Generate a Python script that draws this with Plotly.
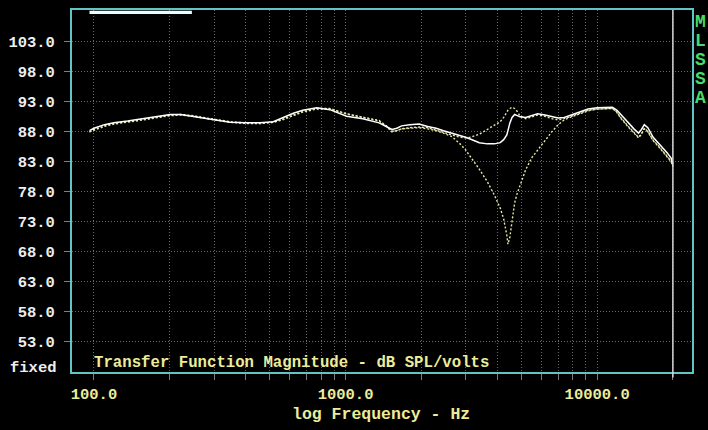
import plotly.graph_objects as go

freq = [96, 100, 110, 120, 136, 158, 180, 201, 221, 248,
        290, 348, 400, 457, 516, 563, 620, 676, 768, 866,
        1010, 1170, 1360, 1450, 1530, 1600, 1670, 1800, 1960, 2120,
        2290, 2450, 2650, 2850, 3000, 3130, 3400, 3660, 3900, 4120,
        4250, 4375, 4420, 4500, 4590, 4700, 4815, 4940, 5200, 5500,
        5800, 6200, 6600, 7000, 7400, 7900, 8500, 9200, 10000, 10700,
        11500, 12000, 12400, 13300, 14000, 14600, 15000, 15400, 15900, 16700,
        17500, 18200, 19000, 19700, 20000]

db_solid = [88.2, 88.6, 89.2, 89.5, 89.8, 90.2, 90.6, 90.9, 90.9, 90.6,
            90.1, 89.6, 89.5, 89.5, 89.7, 90.4, 91.1, 91.6, 92.0, 91.7,
            90.6, 90.2, 89.5, 88.9, 88.4, 88.6, 89.0, 89.2, 89.3, 88.9,
            88.6, 88.2, 87.8, 87.3, 87.1, 86.8, 86.2, 86.0, 86.0, 86.2,
            86.7, 87.5, 88.3, 89.5, 90.4, 90.9, 90.7, 90.5, 90.4, 90.7,
            91.0, 90.8, 90.5, 90.3, 90.4, 90.8, 91.3, 91.8, 92.0, 92.1,
            92.1, 91.6, 90.9, 89.5, 88.5, 87.8, 88.4, 89.2, 88.7, 87.1,
            86.2, 85.4, 84.5, 83.6, 82.6]

db_peak = [88.0, 88.4, 89.0, 89.4, 89.7, 90.1, 90.5, 90.8, 90.9, 90.7,
           90.2, 89.7, 89.5, 89.4, 89.6, 90.1, 90.8, 91.4, 91.9, 91.9,
           91.0, 90.5, 89.9, 89.0, 88.0, 88.2, 88.5, 88.7, 88.8, 88.7,
           88.3, 87.9, 87.5, 87.1, 87.0, 87.1, 87.6, 88.4, 89.0, 89.7,
           90.4, 91.3, 91.6, 91.9, 92.1, 91.9, 91.4, 90.6, 90.2, 90.5,
           90.8, 90.6, 90.2, 90.0, 90.2, 90.6, 91.1, 91.6, 91.8, 91.9,
           91.9, 91.2, 90.3, 88.8, 87.8, 87.0, 87.6, 88.5, 88.0, 86.5,
           85.6, 84.8, 83.9, 83.0, 82.2]

db_notch = [88.0, 88.3, 88.9, 89.3, 89.6, 90.0, 90.4, 90.7, 90.8, 90.6,
            90.1, 89.6, 89.4, 89.4, 89.6, 90.0, 90.7, 91.3, 91.8, 91.8,
            91.0, 90.4, 89.8, 89.0, 88.1, 88.2, 88.5, 88.6, 88.7, 88.5,
            88.2, 87.8, 87.2, 86.0, 85.0, 83.9, 81.8, 79.7, 77.5, 75.3,
            73.5, 70.8, 69.3, 70.5, 73.0, 76.2, 77.8, 79.0, 81.7, 83.7,
            85.0, 86.6, 88.0, 89.2, 90.0, 90.5, 91.0, 91.5, 91.8, 91.9,
            91.9, 91.3, 90.4, 88.9, 87.9, 87.1, 87.7, 88.6, 88.1, 86.6,
            85.7, 84.9, 84.0, 83.1, 82.3]

y_ticks = [53, 58, 63, 68, 73, 78, 83, 88, 93, 98, 103]
y_labels = ["53.0", "58.0", "63.0", "68.0", "73.0", "78.0", "83.0", "88.0", "93.0", "98.0", "103.0"]
x_ticks = [m * d for d in (100, 1000, 10000) for m in range(1, 10) if m * d <= 20000]
x_labels = {100: "100.0", 1000: "1000.0", 10000: "10000.0"}

FONT = "Liberation Mono"
YELLOW = "#ecec9a"
CYAN = "#62c4c4"
GRID = "#6a6a6a"
TICK = "#808080"

fig = go.Figure()
fig.add_trace(go.Scatter(x=freq, y=db_peak, mode="lines",
                         line=dict(color="#e8e8a8", width=1.4, dash="2px,2px")))
fig.add_trace(go.Scatter(x=freq, y=db_notch, mode="lines",
                         line=dict(color="#e8e8a8", width=1.4, dash="2px,2px")))
fig.add_trace(go.Scatter(x=freq, y=db_solid, mode="lines",
                         line=dict(color="#ffffff", width=1.5)))

fig.update_layout(
    width=708, height=430,
    margin=dict(l=71, r=16, t=8, b=58),
    paper_bgcolor="black", plot_bgcolor="black",
    showlegend=False,
    font=dict(family=FONT, size=15, color=YELLOW, weight="bold"),
)
fig.update_xaxes(
    type="log", range=[1.9127, 4.377],
    tickvals=x_ticks, ticktext=[x_labels.get(v, "") for v in x_ticks],
    ticks="outside", ticklen=6, tickcolor=TICK, tickwidth=1,
    tickfont=dict(family=FONT, size=15.5, color=YELLOW, weight="bold"),
    showgrid=True, gridcolor=GRID, griddash="1px,2px", gridwidth=1,
    showline=True, mirror=True, linecolor=CYAN, linewidth=2, zeroline=False,
)
fig.update_yaxes(
    range=[48, 108.3],
    tickvals=y_ticks, ticktext=y_labels,
    ticks="outside", ticklen=6, tickcolor=TICK, tickwidth=1,
    tickfont=dict(family=FONT, size=15.5, color="#eeeeee", weight="bold"),
    ticklabelstandoff=6,
    showgrid=True, gridcolor=GRID, griddash="1px,2px", gridwidth=1,
    showline=True, mirror=True, linecolor=CYAN, linewidth=2, zeroline=False,
)

# cursor bar and end marker
fig.add_shape(type="rect", xref="x", yref="paper", x0=96, x1=245, y0=0.989, y1=0.998,
              fillcolor="#e6ffff", line=dict(width=0))
fig.add_shape(type="line", xref="x", yref="paper", x0=20000, x1=20000, y0=-0.015, y1=1,
              line=dict(color="#d8d8d8", width=1.5))

fig.add_annotation(text="Transfer Function Magnitude - dB SPL/volts", xref="paper", yref="paper",
                   x=0.032, y=0.024, xanchor="left", yanchor="middle", showarrow=False,
                   font=dict(family=FONT, size=15.7, color=YELLOW, weight="bold"))
fig.add_annotation(text="log Frequency - Hz", xref="paper", yref="paper",
                   x=0.4976, y=-0.117, xanchor="center", yanchor="middle", showarrow=False,
                   font=dict(family=FONT, size=16.5, color=YELLOW, weight="bold"))
fig.add_annotation(text="fixed", xref="paper", yref="paper",
                   x=-0.021, y=0.011, xanchor="right", yanchor="middle", showarrow=False,
                   font=dict(family=FONT, size=15.5, color="#eeeeee", weight="bold"))
for i, ch in enumerate("MLSSA"):
    fig.add_annotation(text=ch, xref="paper", yref="paper",
                       x=1.0145, y=(372 - (20 + 19 * i)) / 364, xanchor="center", yanchor="middle",
                       showarrow=False, font=dict(family=FONT, size=18, color="#44dd66", weight="bold"))

fig.write_html("out.html", config={"displayModeBar": False},
               post_script="document.body.style.margin='0';document.body.style.padding='0';")
